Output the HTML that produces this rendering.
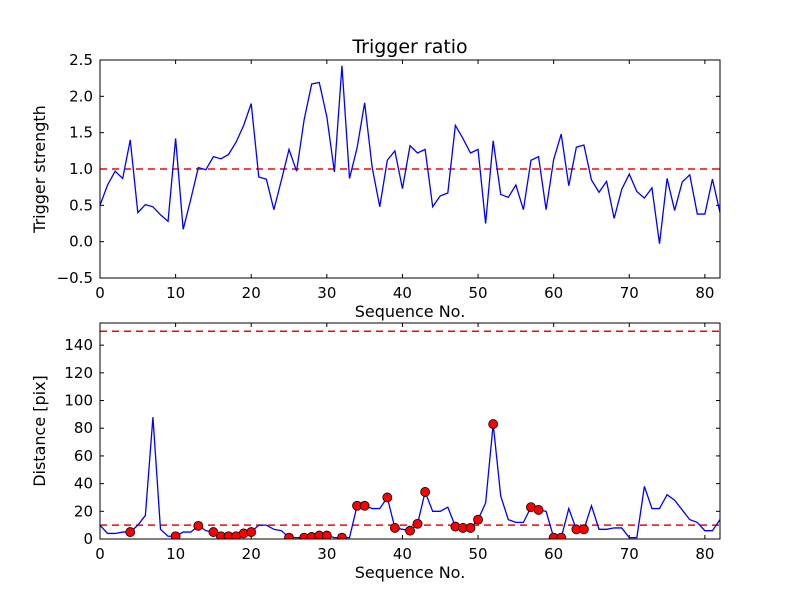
<!DOCTYPE html>
<html><head><meta charset="utf-8"><style>
body{margin:0;background:#fff}
svg text{font-family:"DejaVu Sans","Liberation Sans",sans-serif;fill:#000}
</style></head><body>
<svg id="c" width="800" height="600" xmlns="http://www.w3.org/2000/svg"></svg>
<script>
const xTicks=[0,10,20,30,40,50,60,70,80];
const topYTicks=[-0.5,0.0,0.5,1.0,1.5,2.0,2.5];
const botYTicks=[0,20,40,60,80,100,120,140];
const ratio=[0.5,0.78,0.97,0.87,1.4,0.4,0.51,0.48,0.37,0.28,1.42,0.17,0.58,1.02,0.99,1.17,1.14,1.2,1.37,1.6,1.9,0.89,0.86,0.44,0.85,1.27,0.97,1.68,2.17,2.19,1.72,0.96,2.42,0.87,1.29,1.91,1.02,0.48,1.12,1.25,0.73,1.32,1.22,1.27,0.48,0.63,0.67,1.6,1.42,1.22,1.27,0.25,1.39,0.65,0.61,0.78,0.44,1.12,1.17,0.44,1.13,1.48,0.77,1.30,1.33,0.85,0.68,0.83,0.32,0.72,0.93,0.69,0.6,0.74,-0.03,0.87,0.43,0.82,0.92,0.38,0.38,0.86,0.4];
const dist=[10,4,4,5,5,10,17,88,7,2,2,5,5,9.5,6,5,2,2,2,4,5,10,10,7,6,1,1,1,1.5,2.5,2.5,1,1,1,24,24,22,22,30,8,7,6,11,34,20,20,23,9,8,8,14,26,83,31,14,12,12,23,21,20,1,1,22,7,7,24,7,7,8,8,1,1,38,22,22,32,28,21,14,12,6,6,14];
const markIdx=[4,10,13,15,16,17,18,19,20,25,27,28,29,30,32,34,35,38,39,41,42,43,47,48,49,50,52,57,58,60,61,63,64];
const ratioThreshold=1.0, distThreshold=10, distLimit=150;

const svg=document.getElementById('c');
const NS='http://www.w3.org/2000/svg';
function mk(tag,attrs,parent){const e=document.createElementNS(NS,tag);for(const k in attrs)e.setAttribute(k,attrs[k]);(parent||svg).appendChild(e);return e;}
const L=100,R=720;
const xs=v=>L+(v-0)/82*(R-L);
const T1=60,B1=278, ys1=v=>B1-(v+0.5)/3*(B1-T1);
const T2=323,B2=539, ys2=v=>B2-v/156*(B2-T2);

function axes(T,B,ys,yTicks,fmt,name,ylab){
  const g=mk('g',{});
  
  
  mk('rect',{x:L,y:T,width:R-L,height:B-T,fill:'#fff',stroke:'none'},g);
  xTicks.forEach(t=>{const x=xs(t);
    mk('line',{x1:x,x2:x,y1:B,y2:B-4,stroke:'#000'},g);mk('line',{x1:x,x2:x,y1:T,y2:T+4,stroke:'#000'},g);
    const tx=mk('text',{x:x,y:B+20,'text-anchor':'middle','font-size':15},g);tx.textContent=t;
    });
  yTicks.forEach(t=>{const y=ys(t);
    mk('line',{x1:L,x2:L+4,y1:y,y2:y,stroke:'#000'},g);mk('line',{x1:R,x2:R-4,y1:y,y2:y,stroke:'#000'},g);
    const tx=mk('text',{x:L-7,y:y+5,'text-anchor':'end','font-size':15},g);tx.textContent=fmt(t);
    });
  const xl=mk('text',{x:(L+R)/2,y:B+39,'text-anchor':'middle','font-size':16},g);xl.textContent='Sequence No.';
  
  const yl=mk('text',{x:0,y:0,'text-anchor':'middle','font-size':16,transform:`translate(${L-55},${(T+B)/2}) rotate(-90)`},g);yl.textContent=ylab;
  
  return g;
}
const g1=axes(T1,B1,ys1,topYTicks,t=>t.toFixed(1).replace('-','−'),'top-axes','Trigger strength');
const th1=mk('line',{x1:L,x2:R,y1:ys1(ratioThreshold),y2:ys1(ratioThreshold),stroke:'#f00','stroke-width':1.5,'stroke-dasharray':'7,5'},g1);

const p1=mk('polyline',{points:ratio.map((v,i)=>xs(i)+','+ys1(v)).join(' '),fill:'none',stroke:'#00f','stroke-width':1.3},g1);

mk('rect',{x:L,y:T1,width:R-L,height:B1-T1,fill:'none',stroke:'#000'},g1);
const tt=mk('text',{x:(L+R)/2,y:T1-7,'text-anchor':'middle','font-size':19});tt.textContent='Trigger ratio';


const g2=axes(T2,B2,ys2,botYTicks,t=>String(t),'bottom-axes','Distance [pix]');
[distThreshold,distLimit].forEach(v=>{const l=mk('line',{x1:L,x2:R,y1:ys2(v),y2:ys2(v),stroke:'#f00','stroke-width':1.5,'stroke-dasharray':'7,5'},g2);
  });
const p2=mk('polyline',{points:dist.map((v,i)=>xs(i)+','+ys2(v)).join(' '),fill:'none',stroke:'#00f','stroke-width':1.3},g2);

const cg=mk('g',{'clip-path':'url(#clip2)'},g2);
const cp=mk('clipPath',{id:'clip2'});mk('rect',{x:L,y:T2,width:R-L,height:B2-T2},cp);
markIdx.forEach(i=>{const c=mk('circle',{cx:xs(i),cy:ys2(dist[i]),r:4.5,fill:'#f00',stroke:'#000','stroke-width':0.8},cg);
  });
mk('rect',{x:L,y:T2,width:R-L,height:B2-T2,fill:'none',stroke:'#000'},g2);
</script>
</body></html>
